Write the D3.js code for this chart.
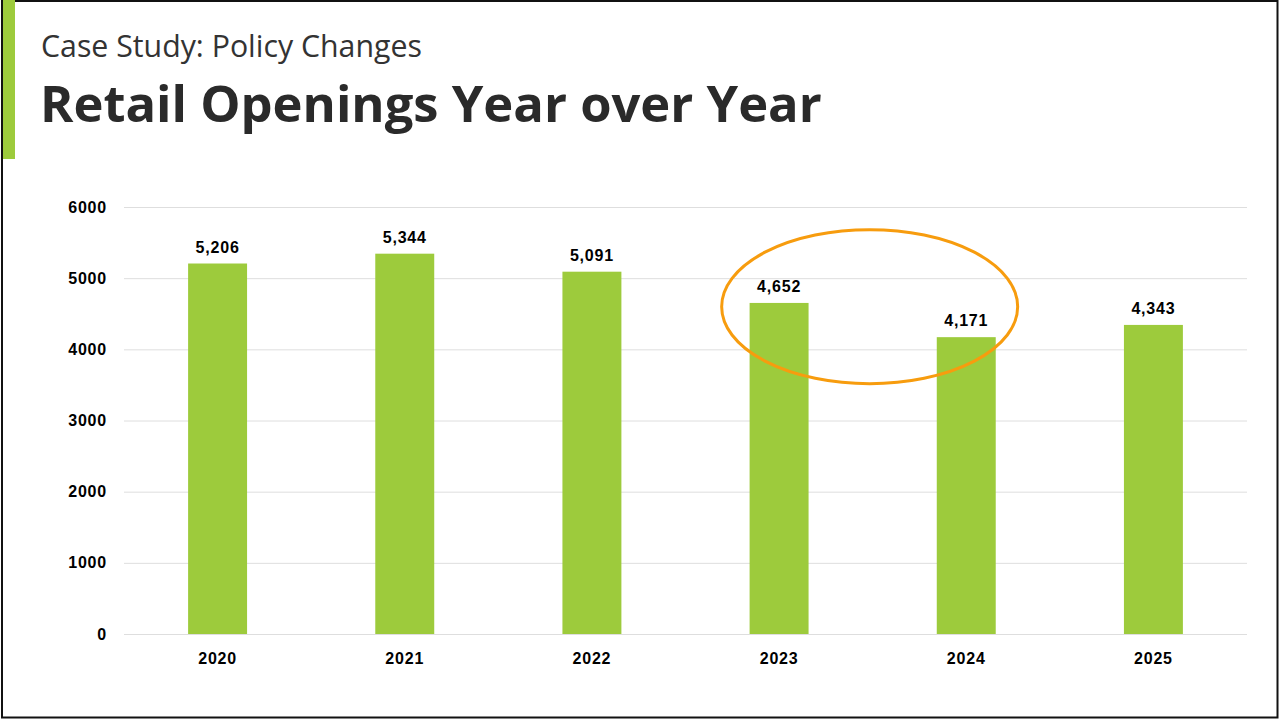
<!DOCTYPE html>
<html>
<head>
<meta charset="utf-8">
<script src="https://cdn.jsdelivr.net/npm/d3@7"></script>
<style>
  html, body { margin: 0; padding: 0; background: #fff; }
  svg { display: block; }
</style>
</head>
<body>
<svg id="chart" width="1279" height="719"></svg>
<script>
// Retail openings per year
const years = ["2020", "2021", "2022", "2023", "2024", "2025"];
const openings = [5206, 5344, 5091, 4652, 4171, 4343];
const yTicks = [0, 1000, 2000, 3000, 4000, 5000, 6000];
const highlighted = ["2023", "2024"];
const highlightLevel = 4600;

const W = 1279, H = 719;
const svg = d3.select("#chart");
const green = "#9dcb3c";
const labelFont = "'Liberation Sans', Arial, sans-serif";

// slide frame
svg.append("rect").attr("x", 2).attr("y", 1).attr("width", W - 3.5).attr("height", H - 2.5)
  .attr("fill", "#fff").attr("stroke", "#111").attr("stroke-width", 2);
svg.append("rect").attr("x", 3).attr("y", 0).attr("width", 12).attr("height", 159).attr("fill", green);

// headings, sized to fixed widths
function fitText(sel, target) {
  const w = sel.node().getComputedTextLength();
  const fs = parseFloat(sel.attr("font-size"));
  sel.attr("font-size", fs * target / w);
}
const sub = svg.append("text").attr("x", 41).attr("y", 57)
  .attr("font-family", "'Open Sans', sans-serif").attr("font-size", 26)
  .attr("fill", "#333").text("Case Study: Policy Changes");
fitText(sub, 381);
const title = svg.append("text").attr("x", 40).attr("y", 122)
  .attr("font-family", "'Open Sans', sans-serif").attr("font-weight", 700).attr("font-size", 50)
  .attr("fill", "#2a2a2a").text("Retail Openings Year over Year");
fitText(title, 782);

// scales
const x = d3.scaleBand().domain(years).range([124, 1247]).paddingInner(0.685).paddingOuter(0.3425);
const y = d3.scaleLinear().domain([0, 6000]).range([634, 207]);

// gridlines
svg.append("g").selectAll("line").data(yTicks).join("line")
  .attr("x1", 124).attr("x2", 1247)
  .attr("y1", d => y(d) + 0.5).attr("y2", d => y(d) + 0.5)
  .attr("stroke", "#dedede").attr("stroke-width", 1);

function styleLabels(sel) {
  sel.attr("font-family", labelFont).attr("font-weight", 700)
    .attr("font-size", 16).attr("letter-spacing", "0.8px").attr("fill", "#000");
}

// y axis labels
const yAxis = d3.axisLeft(y).tickValues(yTicks).tickSize(0).tickPadding(0).tickFormat(d3.format("d"));
const gy = svg.append("g").attr("transform", "translate(107,0)").call(yAxis);
gy.select(".domain").remove();
styleLabels(gy.selectAll("text"));

// x axis labels
const xAxis = d3.axisBottom(x).tickSize(0).tickPadding(0);
const gx = svg.append("g").attr("transform", "translate(0,653)").call(xAxis);
gx.select(".domain").remove();
styleLabels(gx.selectAll("text"));

// bars
svg.append("g").selectAll("rect").data(years).join("rect")
  .attr("x", d => x(d)).attr("width", x.bandwidth())
  .attr("y", (d, i) => y(openings[i])).attr("height", (d, i) => y(0) - y(openings[i]))
  .attr("fill", green);

// value labels
svg.append("g").selectAll("text").data(years).join("text")
  .attr("x", d => x(d) + x.bandwidth() / 2)
  .attr("y", (d, i) => y(openings[i]) - 11)
  .attr("text-anchor", "middle")
  .call(styleLabels)
  .text((d, i) => d3.format(",")(openings[i]));

// highlight ring around the decline
const c1 = x(highlighted[0]) + x.bandwidth() / 2;
const c2 = x(highlighted[1]) + x.bandwidth() / 2;
svg.append("ellipse")
  .attr("cx", (c1 + c2) / 2 - 3).attr("cy", y(highlightLevel))
  .attr("rx", 148).attr("ry", 77)
  .attr("fill", "none").attr("stroke", "#f79c0e").attr("stroke-width", 3);
</script>
</body>
</html>
